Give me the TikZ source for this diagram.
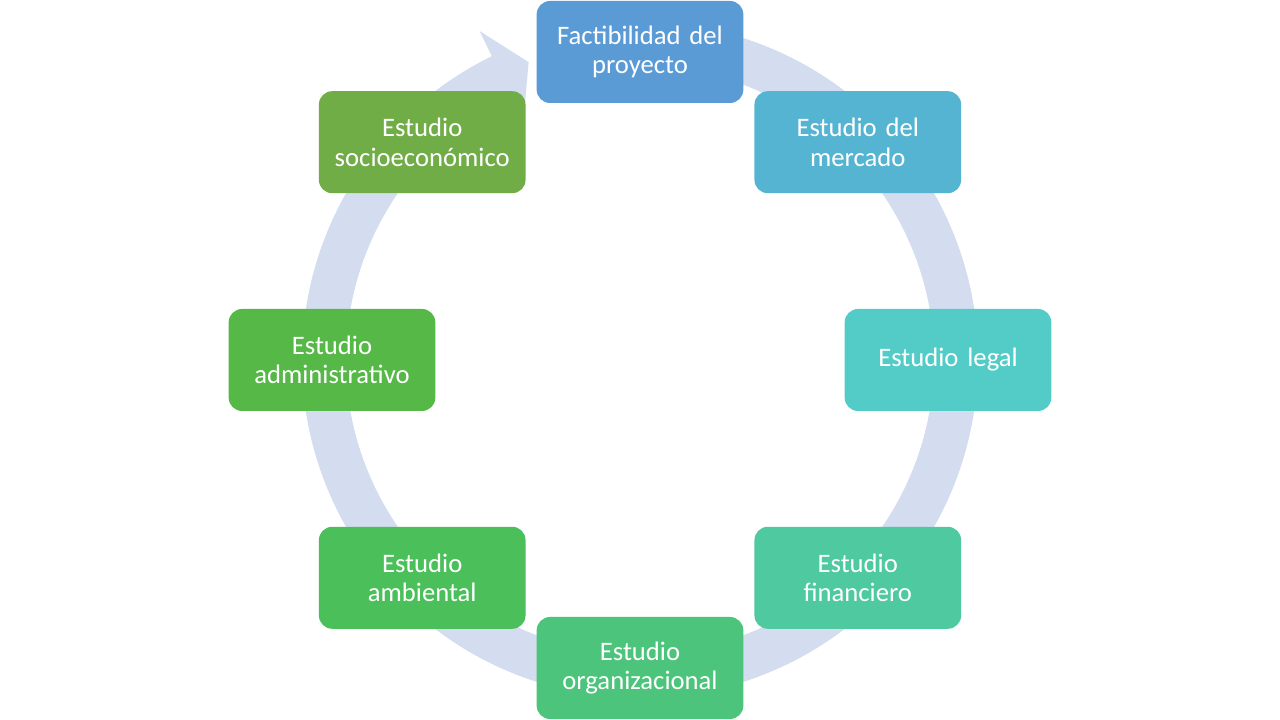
\documentclass[tikz,border=0pt]{standalone}
\usepackage{fontspec}
\setmainfont{Carlito}
\definecolor{ringc}{RGB}{211,221,239}
\definecolor{c1}{RGB}{91,155,213}
\definecolor{c2}{RGB}{86,180,211}
\definecolor{c3}{RGB}{83,204,199}
\definecolor{c4}{RGB}{78,201,160}
\definecolor{c5}{RGB}{76,196,124}
\definecolor{c6}{RGB}{75,191,90}
\definecolor{c7}{RGB}{86,184,71}
\definecolor{c8}{RGB}{112,173,71}
\tikzset{
  cyclebox/.style={rounded corners=10pt, minimum width=155pt, minimum height=76.5pt,
    text width=150pt, align=center, text=white, inner sep=0pt,
    font=\fontsize{20}{22}\selectfont},
}
\begin{document}
\begin{tikzpicture}[x=0.75pt,y=0.75pt]
\fill[white] (0,0) rectangle (1280,720);
\useasboundingbox (0,0) rectangle (1280,720);
\coordinate (C) at (640,360);
% circular arrow
\fill[ringc] ([shift={(80:338)}]C) arc[start angle=80, end angle=-244, radius=338]
  -- ([shift={(-244:366)}]C) -- ([shift={(-249.5:318)}]C) -- ([shift={(-244:266)}]C)
  -- ([shift={(-244:294)}]C) arc[start angle=-244, end angle=80, radius=294] -- cycle;
% nodes
\node[cyclebox, fill=c1] (n1) at ([shift={(90:308)}]C) {Factibilidad del\\proyecto};
\node[cyclebox, fill=c2] (n2) at ([shift={(45:308)}]C) {Estudio del\\mercado};
\node[cyclebox, fill=c3] (n3) at ([shift={(0:308)}]C) {Estudio legal};
\node[cyclebox, fill=c4] (n4) at ([shift={(-45:308)}]C) {Estudio\\financiero};
\node[cyclebox, fill=c5] (n5) at ([shift={(-90:308)}]C) {Estudio\\organizacional};
\node[cyclebox, fill=c6] (n6) at ([shift={(-135:308)}]C) {Estudio\\ambiental};
\node[cyclebox, fill=c7] (n7) at ([shift={(180:308)}]C) {Estudio\\administrativo};
\node[cyclebox, fill=c8] (n8) at ([shift={(135:308)}]C) {Estudio\\socioeconómico};
\end{tikzpicture}
\end{document}
